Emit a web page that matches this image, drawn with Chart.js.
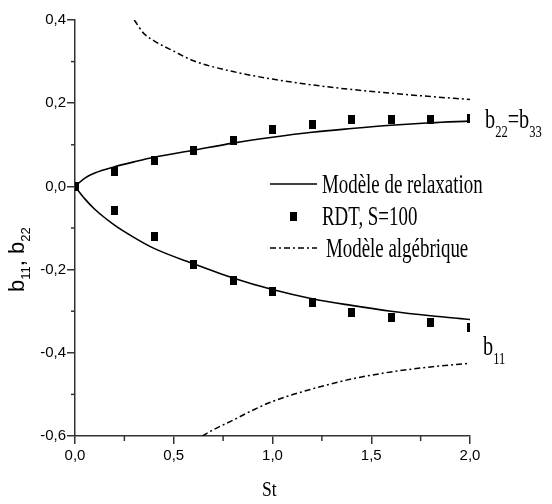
<!DOCTYPE html>
<html>
<head>
<meta charset="utf-8">
<script src="https://cdn.jsdelivr.net/npm/chart.js@4/dist/chart.umd.min.js"></script>
<style>
  body { margin: 0; background: #fff; }
  canvas { display: block; }
</style>
</head>
<body>
<canvas id="chart" width="552" height="504"></canvas>
<script>
// St values where the RDT points were taken
const stPoints = [0, 0.2, 0.4, 0.6, 0.8, 1.0, 1.2, 1.4, 1.6, 1.8, 2.0];
const rdtB22 = [0, 0.036, 0.062, 0.086, 0.11, 0.137, 0.149, 0.161, 0.162, 0.162, 0.163];
const rdtB11 = [0, -0.058, -0.12, -0.187, -0.227, -0.253, -0.278, -0.302, -0.314, -0.326, -0.338];

// relaxation model curves
const relaxSt = [0, 0.05, 0.1, 0.2, 0.3, 0.4, 0.6, 0.8, 1.0, 1.2, 1.4, 1.6, 1.8, 2.0];
const relaxB22 = [0, 0.02, 0.032, 0.047, 0.059, 0.07, 0.087, 0.104, 0.118, 0.13, 0.139, 0.147, 0.153, 0.157];
const relaxB11 = [0, -0.03, -0.055, -0.093, -0.123, -0.149, -0.186, -0.22, -0.248, -0.27, -0.286, -0.3, -0.311, -0.32];

// algebraic model curves
const algSt22 = [0.3, 0.35, 0.4, 0.5, 0.6, 0.8, 1.0, 1.2, 1.4, 1.6, 1.8, 2.0];
const algB22 = [0.4, 0.367, 0.35, 0.325, 0.302, 0.276, 0.258, 0.244, 0.233, 0.224, 0.216, 0.209];
const algSt11 = [0.645, 0.7, 0.8, 0.9, 1.0, 1.2, 1.4, 1.6, 1.8, 2.0];
const algB11 = [-0.6, -0.585, -0.562, -0.538, -0.517, -0.487, -0.463, -0.446, -0.434, -0.425];

const xy = (xs, ys) => xs.map((x, i) => ({ x, y: ys[i] }));

// tall black rectangle marker
const marker = document.createElement("canvas");
marker.width = 7;
marker.height = 9;
const mctx = marker.getContext("2d");
mctx.fillStyle = "#000";
mctx.fillRect(0, 0, 7, 9);

const fmt = (v) => (Math.abs(v) < 1e-9 ? 0 : v).toFixed(1).replace(".", ",");
const DASHDOT = [6, 3, 2, 3];

// text helper: condensed serif drawn with horizontal squeeze
function squeezed(ctx, text, x, y, size, sx) {
  ctx.save();
  ctx.translate(x, y);
  ctx.scale(sx, 1);
  ctx.font = size + "px 'Liberation Serif'";
  ctx.fillText(text, 0, 0);
  const w = ctx.measureText(text).width * sx;
  ctx.restore();
  return w;
}

// b + subscript label
function subLabel(ctx, x, y, parts, size, sx) {
  let cx = x;
  for (const [txt, sub] of parts) {
    if (sub) cx += squeezed(ctx, txt, cx, y + 9, size * 0.62, sx);
    else cx += squeezed(ctx, txt, cx, y, size, sx);
  }
}

const minorTicks = {
  id: "minorTicks",
  afterDraw(chart) {
    const { ctx, scales: { x, y } } = chart;
    ctx.save();
    ctx.strokeStyle = "#333";
    ctx.lineWidth = 1.5;
    for (let v = 0.25; v < 2; v += 0.5) {
      const px = x.getPixelForValue(v);
      ctx.beginPath();
      ctx.moveTo(px, y.bottom);
      ctx.lineTo(px, y.bottom + 5);
      ctx.stroke();
    }
    for (let v = -0.5; v < 0.4; v += 0.2) {
      const py = y.getPixelForValue(v);
      ctx.beginPath();
      ctx.moveTo(x.left, py);
      ctx.lineTo(x.left - 4, py);
      ctx.stroke();
    }
    ctx.restore();
  },
};

const annotations = {
  id: "annotations",
  afterDraw(chart) {
    const { ctx } = chart;
    ctx.save();
    ctx.fillStyle = "#000";
    ctx.strokeStyle = "#000";
    ctx.textBaseline = "alphabetic";

    // legend
    ctx.lineWidth = 1.5;
    ctx.beginPath();
    ctx.moveTo(270, 184);
    ctx.lineTo(317, 184);
    ctx.stroke();
    squeezed(ctx, "Modèle de relaxation", 322, 193, 27, 0.7);

    ctx.drawImage(marker, 290, 212);
    squeezed(ctx, "RDT, S=100", 322, 225, 27, 0.7);

    ctx.setLineDash(DASHDOT);
    ctx.beginPath();
    ctx.moveTo(270, 248);
    ctx.lineTo(317, 248);
    ctx.stroke();
    ctx.setLineDash([]);
    squeezed(ctx, "Modèle algébrique", 326, 257, 27, 0.7);

    // curve labels
    subLabel(ctx, 485, 128, [["b", false], ["22", true], ["=b", false], ["33", true]], 27, 0.75);
    subLabel(ctx, 483, 355, [["b", false], ["11", true]], 27, 0.75);

    // axis titles
    squeezed(ctx, "St", 262, 496, 22, 0.8);

    ctx.save();
    ctx.translate(24, 292);
    ctx.rotate(-Math.PI / 2);
    let cx = 0;
    const parts = [["b", 22, 0], ["11", 13, 6], [", b", 22, 0], ["22", 13, 6]];
    for (const [t, s, dy] of parts) {
      ctx.font = s + "px 'Liberation Sans'";
      ctx.fillText(t, cx, dy);
      cx += ctx.measureText(t).width;
    }
    ctx.restore();

    ctx.restore();
  },
};

new Chart(document.getElementById("chart"), {
  type: "scatter",
  data: {
    datasets: [
      {
        label: "Modèle de relaxation b22",
        type: "line",
        data: xy(relaxSt, relaxB22),
        borderColor: "#000",
        borderWidth: 1.6,
        pointRadius: 0,
        cubicInterpolationMode: "monotone",
        fill: false,
      },
      {
        label: "Modèle de relaxation b11",
        type: "line",
        data: xy(relaxSt, relaxB11),
        borderColor: "#000",
        borderWidth: 1.6,
        pointRadius: 0,
        cubicInterpolationMode: "monotone",
        fill: false,
      },
      {
        label: "Modèle algébrique b22",
        type: "line",
        data: xy(algSt22, algB22),
        borderColor: "#000",
        borderWidth: 1.5,
        borderDash: DASHDOT,
        pointRadius: 0,
        cubicInterpolationMode: "monotone",
        fill: false,
      },
      {
        label: "Modèle algébrique b11",
        type: "line",
        data: xy(algSt11, algB11),
        borderColor: "#000",
        borderWidth: 1.5,
        borderDash: DASHDOT,
        pointRadius: 0,
        cubicInterpolationMode: "monotone",
        fill: false,
      },
      {
        label: "RDT b22",
        data: xy(stPoints, rdtB22),
        pointStyle: marker,
      },
      {
        label: "RDT b11",
        data: xy(stPoints, rdtB11),
        pointStyle: marker,
      },
    ],
  },
  options: {
    responsive: false,
    animation: false,
    layout: { padding: { left: 0, top: 20, right: 82, bottom: 0 } },
    plugins: { legend: { display: false }, tooltip: { enabled: false } },
    scales: {
      x: {
        type: "linear",
        min: 0,
        max: 2,
        afterFit: (s) => { s.height = 68; },
        border: { display: true, color: "#333", width: 1.5 },
        grid: { drawOnChartArea: false, tickLength: 8, color: "#333", lineWidth: 1.5 },
        ticks: {
          stepSize: 0.5,
          padding: 3,
          color: "#000",
          font: { family: "Liberation Sans", size: 15 },
          callback: (v) => fmt(v),
        },
      },
      y: {
        min: -0.6,
        max: 0.4,
        afterFit: (s) => { s.width = 75; },
        border: { display: true, color: "#333", width: 1.5 },
        grid: { drawOnChartArea: false, tickLength: 8, color: "#333", lineWidth: 1.5 },
        ticks: {
          stepSize: 0.2,
          padding: 1,
          color: "#000",
          font: { family: "Liberation Sans", size: 15 },
          callback: (v) => fmt(v),
        },
      },
    },
  },
  plugins: [minorTicks, annotations],
});
</script>
</body>
</html>
